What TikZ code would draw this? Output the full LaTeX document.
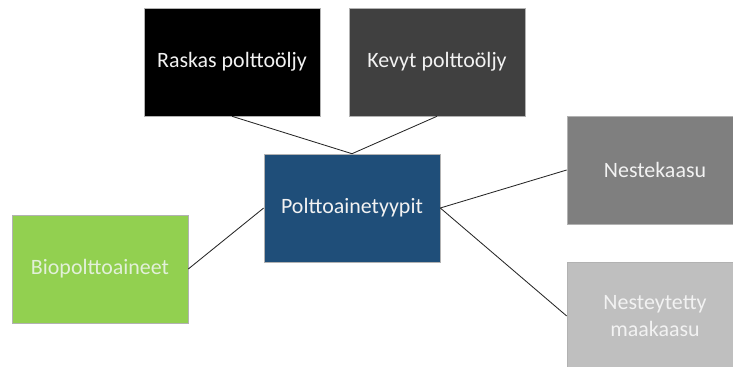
\documentclass[tikz,border=0pt]{standalone}
\usepackage{fontspec}
\setmainfont{Carlito}
\usepackage{tikz}
\definecolor{boxblue}{RGB}{31,78,121}
\definecolor{boxdark}{RGB}{64,64,64}
\definecolor{boxmid}{RGB}{127,127,127}
\definecolor{boxlight}{RGB}{191,191,191}
\definecolor{boxgreen}{RGB}{146,208,80}
\definecolor{txtgreen}{RGB}{226,240,217}
\tikzset{
  fuelbox/.style = {draw=gray!60,line width=0.4pt,minimum width=4.4cm,minimum height=2.7cm,
                    align=center,text=white!95!black,font=\fontsize{15.6}{18.6}\selectfont,inner sep=2pt},
  link/.style    = {black!85,line width=0.6pt}
}
\begin{document}
\begin{tikzpicture}[x=0.025cm,y=-0.025cm]
  \useasboundingbox (0,0) rectangle (733,367);
  \node[fuelbox,fill=boxblue]  (tyypit)  at (352,208) {Polttoainetyypit};
  \node[fuelbox,fill=black]    (raskas)  at (232,62)  {Raskas polttoöljy};
  \node[fuelbox,fill=boxdark]  (kevyt)   at (437,62)  {Kevyt polttoöljy};
  \node[fuelbox,fill=boxmid]   (neste)   at (655,170) {Nestekaasu};
  \node[fuelbox,fill=boxlight] (lng)     at (655,316) {Nesteytetty\\maakaasu};
  \node[fuelbox,fill=boxgreen,text=txtgreen] (bio) at (100,269) {Biopolttoaineet};
  \draw[link] (tyypit.north) -- (raskas.south);
  \draw[link] (tyypit.north) -- (kevyt.south);
  \draw[link] (tyypit.east) -- (neste.west);
  \draw[link] (tyypit.east) -- (lng.west);
  \draw[link] (tyypit.west) -- (bio.east);
\end{tikzpicture}
\end{document}
